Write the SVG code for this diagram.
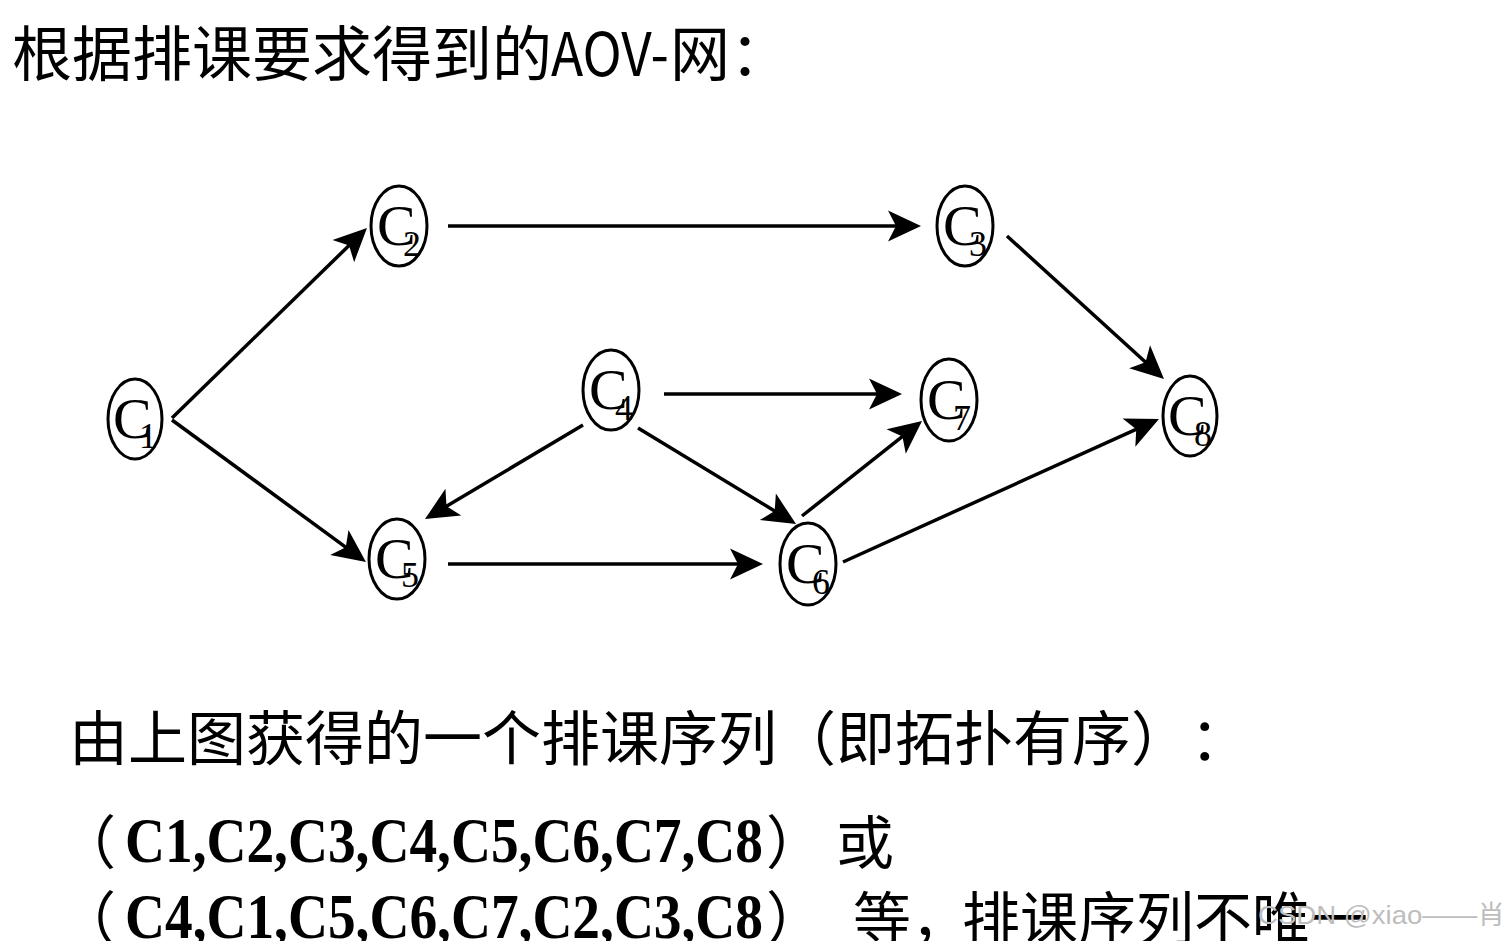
<svg xmlns="http://www.w3.org/2000/svg" width="1512" height="941" viewBox="0 0 1512 941">
<style>
.cjk{font-family:"Noto Sans CJK SC","Liberation Sans",sans-serif;fill:#000}
.lat{font-family:"Liberation Serif","Noto Sans CJK SC",serif;font-weight:bold;fill:#000}
.node ellipse{fill:#fff;stroke:#000;stroke-width:3}
.node text{font-family:"Liberation Serif",serif;fill:#000}
.c{font-size:58px}
.d{font-size:36px}
.edge{stroke:#000;stroke-width:3.5;fill:none;marker-end:url(#arr)}
.wm{font-family:"Liberation Sans","Noto Sans CJK SC",sans-serif;fill:#bdbdbd;font-size:26px}
</style>
<defs>
<marker id="arr" markerUnits="userSpaceOnUse" viewBox="-24 -17 36 34" markerWidth="36" markerHeight="34" refX="0" refY="0" orient="auto">
<path d="M10,0 L-23,-15.5 L-15,0 L-23,15.5 Z" fill="#000"/>
</marker>
</defs>
<rect width="1512" height="941" fill="#fff"/>
<text class="cjk" y="76" font-size="60"><tspan x="12">根据排课要求得到的</tspan><tspan x="551" textLength="118" lengthAdjust="spacingAndGlyphs">AOV-</tspan><tspan x="670">网：</tspan></text>
<g id="connectors">
<line class="edge" x1="172" y1="418" x2="359.8" y2="235.0"/>
<line class="edge" x1="172" y1="420" x2="357.9" y2="556.1"/>
<line class="edge" x1="448" y1="226" x2="911" y2="226"/>
<line class="edge" x1="1007" y1="236" x2="1156.6" y2="372.3"/>
<line class="edge" x1="664" y1="394" x2="892" y2="394"/>
<line class="edge" x1="583" y1="425" x2="433.6" y2="513.9"/>
<line class="edge" x1="638" y1="428" x2="787.5" y2="518.8"/>
<line class="edge" x1="802" y1="516" x2="914.2" y2="427.2"/>
<line class="edge" x1="448" y1="564" x2="753" y2="564"/>
<line class="edge" x1="843" y1="562" x2="1149.9" y2="423.1"/>
</g>
<g id="C1" class="node"><ellipse cx="135" cy="419" rx="27" ry="40"/><text class="c" x="113" y="438">C</text><text class="d" x="139" y="448">1</text></g>
<g id="C2" class="node"><ellipse cx="399" cy="226" rx="28" ry="40"/><text class="c" x="377" y="245">C</text><text class="d" x="403" y="256">2</text></g>
<g id="C3" class="node"><ellipse cx="965" cy="226" rx="28" ry="40"/><text class="c" x="943" y="245">C</text><text class="d" x="969" y="256">3</text></g>
<g id="C4" class="node"><ellipse cx="611" cy="390" rx="28" ry="40"/><text class="c" x="589" y="409">C</text><text class="d" x="615" y="420">4</text></g>
<g id="C5" class="node"><ellipse cx="397" cy="559" rx="28" ry="40"/><text class="c" x="375" y="578">C</text><text class="d" x="401" y="587">5</text></g>
<g id="C6" class="node"><ellipse cx="808" cy="564" rx="28" ry="41"/><text class="c" x="786" y="583">C</text><text class="d" x="812" y="594">6</text></g>
<g id="C7" class="node"><ellipse cx="949" cy="400" rx="28" ry="41"/><text class="c" x="927" y="419">C</text><text class="d" x="953" y="430">7</text></g>
<g id="C8" class="node"><ellipse cx="1190" cy="416" rx="27" ry="40"/><text class="c" x="1168" y="435">C</text><text class="d" x="1194" y="446">8</text></g>
<text class="cjk" y="760" font-size="59"><tspan x="69">由上图获得的一个排课序列</tspan><tspan x="777">（</tspan><tspan x="836">即拓扑有序</tspan><tspan x="1131">）</tspan><tspan x="1190">：</tspan></text>
<text y="864"><tspan class="cjk" x="58" font-size="58">（</tspan><tspan class="lat" x="125" y="862" font-size="64" textLength="638" lengthAdjust="spacingAndGlyphs">C1,C2,C3,C4,C5,C6,C7,C8</tspan><tspan class="cjk" x="766" y="864" font-size="58">）</tspan><tspan class="cjk" x="836" font-size="58">或</tspan></text>
<text y="940"><tspan class="cjk" x="58" font-size="58">（</tspan><tspan class="lat" x="125" y="938" font-size="64" textLength="638" lengthAdjust="spacingAndGlyphs">C4,C1,C5,C6,C7,C2,C3,C8</tspan><tspan class="cjk" x="766" y="940" font-size="58">）</tspan><tspan class="cjk" x="853" font-size="58">等，</tspan><tspan class="cjk" x="962" font-size="58">排课序列不唯一</tspan></text>
<text class="wm" x="1258" y="924" textLength="247" lengthAdjust="spacingAndGlyphs">CSDN @xiao——肖</text>
</svg>
